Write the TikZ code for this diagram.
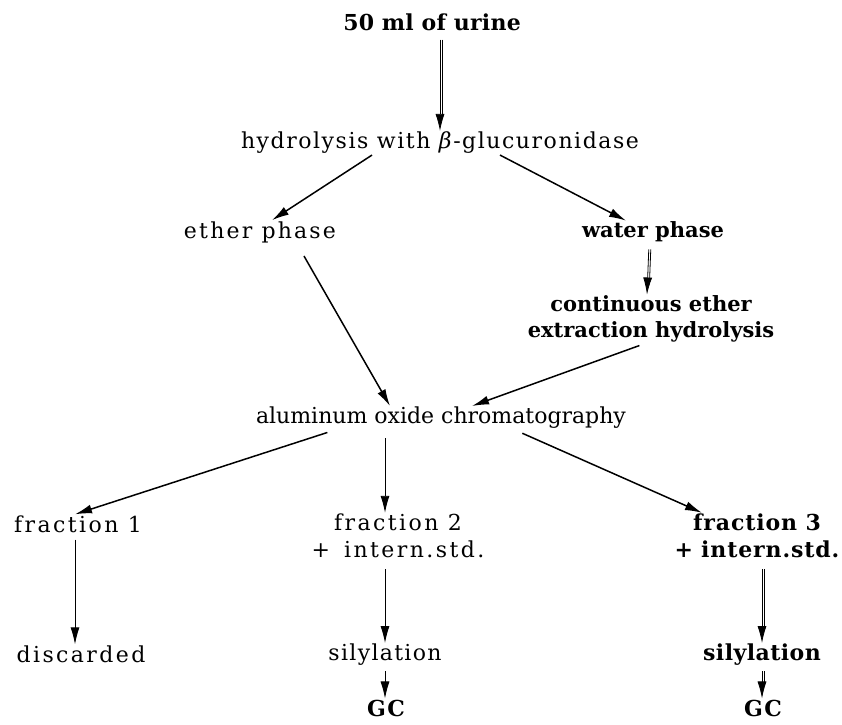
\documentclass[tikz,border=0pt]{standalone}
\usepackage{fontspec}
\setmainfont{DejaVu Serif}
\usetikzlibrary{arrows.meta,positioning}
\tikzset{
  stage/.style={font=\fontsize{22}{27}\selectfont\addfontfeatures{LetterSpace=#1},
                inner sep=1pt, align=center},
  stage/.default=0,
  boldstage/.style={font=\fontsize{22}{27}\selectfont\bfseries\addfontfeatures{LetterSpace=#1},
                    inner sep=1pt, align=center},
  boldstage/.default=0,
  flow/.style={line width=1.5pt, -{Latex[length=17pt,width=9pt]}},
  thinflow/.style={line width=0.9pt, -{Latex[length=17pt,width=9pt]}},
  dblflow/.style={line width=0.8pt, -{Latex[length=17pt,width=9pt]},
                  postaction={draw, -, line width=0.8pt, shorten >=12pt,
                              transform canvas={xshift=2pt}}},
}

\begin{document}
\begin{tikzpicture}[x=1pt,y=-1pt]
  \useasboundingbox (0,0) rectangle (842,724);
  % stages
  \node[boldstage=1] (urine) at (432,22) {50 ml of urine};
  \node[stage=7] (hydro) at (440,143) {hydrolysis with \textit{β}-glucuronidase};
  \node[stage=10] (ether) at (260,232) {ether phase};
  \node[boldstage, font=\fontsize{21}{26}\selectfont\bfseries] (water) at (653,232) {water phase};
  \node[boldstage, font=\fontsize{21}{26}\selectfont\bfseries] (contin) at (651,319) {continuous ether\\extraction hydrolysis};
  \node[stage] (alum) at (441,418) {aluminum oxide chromatography};
  \node[stage=11] (frac1) at (78,524) {fraction 1};
  \node[stage=11] (frac2) at (398,536) {fraction 2\\+\hspace{14pt}intern.std.};
  \node[boldstage=4] (frac3) at (757,536) {fraction 3\\+\hspace{8pt}intern.std.};
  \node[stage=11] (disc) at (81,654) {discarded};
  \node[stage=6] (sil2) at (385,655) {silylation};
  \node[boldstage=6] (gc2) at (386,708) {GC};
  \node[boldstage=2] (sil3) at (762,655) {silylation};
  \node[boldstage=6] (gc3) at (763,708) {GC};
  % connectors
  \draw[dblflow, shorten <=8pt] (urine.south -| hydro.north) -- (hydro.north);
  \draw[flow] ([xshift=-68pt]hydro.south) -- ([xshift=12pt]ether.north);
  \draw[flow] ([xshift=60pt]hydro.south) -- ([xshift=-27pt]water.north);
  \draw[dblflow, shorten <=6pt] ([xshift=-4pt]water.south) -- ([xshift=-4pt]contin.north);
  \draw[flow, shorten <=14pt] ([xshift=37pt]ether.south) -- ([xshift=-51pt]alum.north);
  \draw[flow, shorten <=6pt] ([xshift=-6pt]contin.south) -- ([xshift=31pt]alum.north);
  \draw[flow, shorten <=8pt] ([xshift=-106pt]alum.south) -- ([xshift=-3pt]frac1.north);
  \draw[thinflow, shorten <=8pt] (alum.south -| sil2.north) -- (frac2.north -| sil2.north);
  \draw[flow, shorten <=8pt] ([xshift=74pt]alum.south) -- ([xshift=-55pt]frac3.north);
  \draw[thinflow, shorten <=6pt] ([xshift=-3pt]frac1.south) -- ([xshift=-6pt]disc.north);
  \draw[thinflow, shorten <=10pt] (frac2.south -| sil2.north) -- (sil2.north);
  \draw[thinflow, shorten <=4pt] (sil2.south) -- (gc2.north -| sil2.south);
  \draw[dblflow, shorten <=10pt] (frac3.south -| sil3.north) -- (sil3.north);
  \draw[dblflow, shorten <=4pt] (sil3.south) -- (gc3.north -| sil3.south);
\end{tikzpicture}
\end{document}
